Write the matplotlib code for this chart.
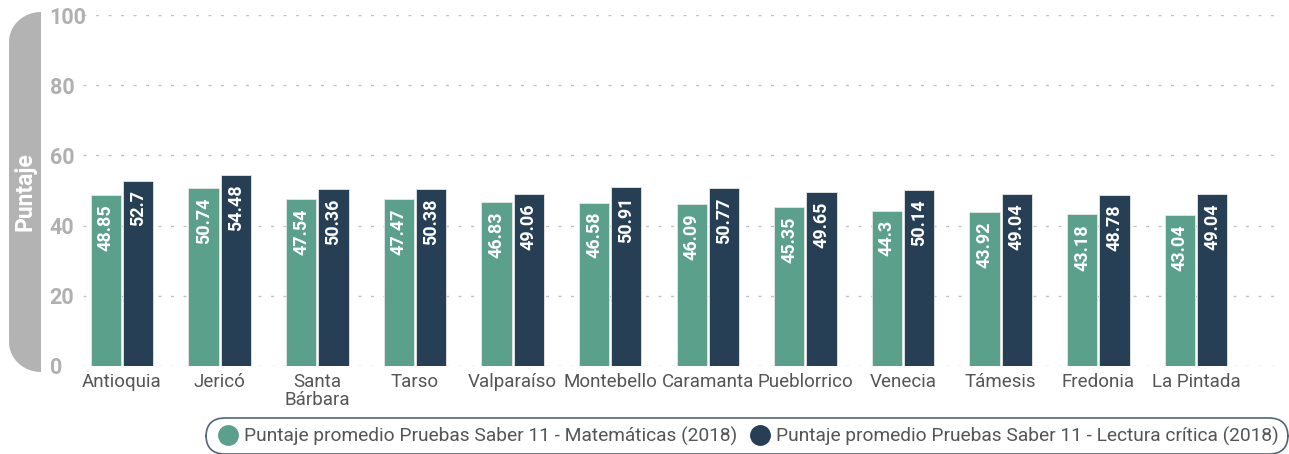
import numpy as np
import matplotlib.pyplot as plt
import matplotlib.patches as mpatches
from matplotlib.lines import Line2D

plt.rcParams['font.family'] = ['Roboto', 'DejaVu Sans']

municipios = ['Antioquia', 'Jericó', 'Santa\nBárbara', 'Tarso', 'Valparaíso', 'Montebello',
              'Caramanta', 'Pueblorrico', 'Venecia', 'Támesis', 'Fredonia', 'La Pintada']
matematicas = [48.85, 50.74, 47.54, 47.47, 46.83, 46.58, 46.09, 45.35, 44.3, 43.92, 43.18, 43.04]
lectura = [52.7, 54.48, 50.36, 50.38, 49.06, 50.91, 50.77, 49.65, 50.14, 49.04, 48.78, 49.04]
serie_mat = 'Puntaje promedio Pruebas Saber 11 - Matemáticas (2018)'
serie_lec = 'Puntaje promedio Pruebas Saber 11 - Lectura crítica (2018)'

verde = '#5ba08a'
azul = '#263f55'
gris = '#555555'

W, H = 1289, 454
fig = plt.figure(figsize=(W / 100, H / 100), dpi=100)
ax = fig.add_axes([83 / W, 1 - 366 / H, (1276 - 83) / W, (366 - 15) / H])

x = np.arange(len(municipios))
bw = 0.31
b1 = ax.bar(x - 0.165, matematicas, width=bw, color=verde, edgecolor='#e6e6e6', linewidth=0.6, zorder=3)
b2 = ax.bar(x + 0.165, lectura, width=bw, color=azul, edgecolor='#e6e6e6', linewidth=0.6, zorder=3)

for bars, vals in ((b1, matematicas), (b2, lectura)):
    for r, v in zip(bars, vals):
        ax.text(r.get_x() + r.get_width() / 2, v - 2.7, str(v), rotation=90, ha='center', va='top',
                color='white', fontsize=13, fontweight='bold', zorder=4)

ax.set_ylim(0, 100)
ax.set_xlim(-0.4, 11.82)
ax.set_yticks([0, 20, 40, 60, 80, 100])
ax.set_xticks(x)
ax.set_xticklabels(municipios, fontsize=13.5, color=gris, linespacing=1.0)
for lab in ax.get_yticklabels():
    lab.set_fontweight('bold')
    lab.set_fontsize(15.5)
    lab.set_color('#b0b0b0')
    lab.set_horizontalalignment('left')
ax.tick_params(axis='both', length=0)
ax.tick_params(axis='y', pad=24)
ax.tick_params(axis='x', pad=5)
for s in ax.spines.values():
    s.set_visible(False)
ax.grid(axis='y', color='#c2c2c2', linestyle=(0, (2.2, 6.8)), linewidth=1, zorder=0)

# pestaña gris del eje y
x0, x1, y0, y1, r = 9, 41, 12, 372, 30
pts = [(x1, y0)]
for a in np.linspace(np.pi / 2, np.pi, 20):
    pts.append((x1 + (x1 - x0) * np.cos(a), y0 + r - r * np.sin(a)))
for a in np.linspace(np.pi, 1.5 * np.pi, 20):
    pts.append((x1 + (x1 - x0) * np.cos(a), y1 - r - r * np.sin(a)))
pts.append((x1, y1))
pts = [(px / W, 1 - py / H) for px, py in pts]
fig.patches.append(mpatches.Polygon(pts, closed=True, transform=fig.transFigure,
                                    facecolor='#b3b3b3', edgecolor='none'))
fig.text((x0 + x1) / 2 / W, 1 - (y0 + y1) / 2 / H, 'Puntaje', rotation=90, ha='center', va='center',
         color='white', fontsize=16.5, fontweight='bold')

# leyenda
handles = [Line2D([], [], marker='o', linestyle='none', markersize=14, color=verde),
           Line2D([], [], marker='o', linestyle='none', markersize=14, color=azul)]
leg = fig.legend(handles, [serie_mat, serie_lec], ncol=2, loc='center right',
                 bbox_to_anchor=(1284 / W, 1 - 436 / H), frameon=True, fontsize=13.8,
                 labelcolor=gris, handletextpad=0.15, columnspacing=0.5, handlelength=1.4,
                 borderpad=0.25, borderaxespad=0)
fr = leg.get_frame()
fr.set_edgecolor(azul)
fr.set_linewidth(1.2)
fr.set_boxstyle('round', pad=0.2, rounding_size=1.0)

fig.savefig('out.png', dpi=100)
